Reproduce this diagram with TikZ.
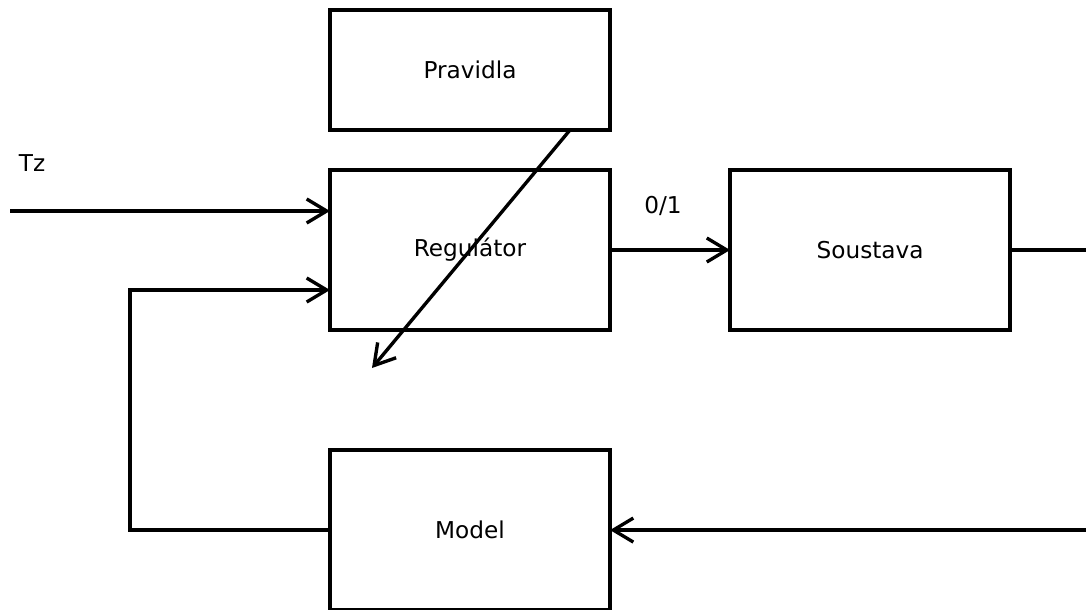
\documentclass[tikz,border=0pt]{standalone}
\usepackage{fontspec}
\setmainfont{DejaVu Sans}
\usepackage{tikz}
\usetikzlibrary{arrows.meta, positioning}
\tikzset{
    block/.style={rectangle, draw, line width=2.4pt, outer sep=0pt, minimum width=7cm, minimum height=4cm, text centered, font=\fontsize{16.5}{19}\selectfont},
    arrow/.style={-{Straight Barb[length=5mm, width=6mm, line width=2.4pt]}, line width=2.4pt},
    line/.style={line width=2.4pt},
    lbl/.style={font=\fontsize{16.5}{19}\selectfont}
}

\begin{document}
\begin{tikzpicture}[x=0.025cm, y=-0.025cm, node distance=3cm]
    \clip (0,0) rectangle (1086,610);

    % Blocks
    \node[block] (reg) at (470,250) {Regulátor};
    \node[block, minimum height=3cm, above=1cm of reg] (prav) {Pravidla};
    \node[block, right=3cm of reg] (sous) {Soustava};
    \node[block, below=3cm of reg] (model) {Model};

    % Free ends
    \coordinate (tzin) at (10,211);
    \coordinate (out) at (372,368);
    \coordinate (edge) at (1100,250);

    % Labels
    \node[lbl] (tz) at (32,163) {Tz};
    \node[lbl] (onoff) at (663,206) {0/1};

    % Connections
    \draw[arrow] (tzin) -- (tzin -| reg.west);
    \draw[arrow] (reg) -- (sous);
    \draw[line] (sous) -- (edge);
    \draw[arrow] (edge) |- (model.east);
    \draw[arrow] (model.west) -- ++(-5cm,0) |- ([yshift=-1cm]reg.west);
    \draw[arrow] ([xshift=2.5cm]prav.south) -- (out);
\end{tikzpicture}
\end{document}
